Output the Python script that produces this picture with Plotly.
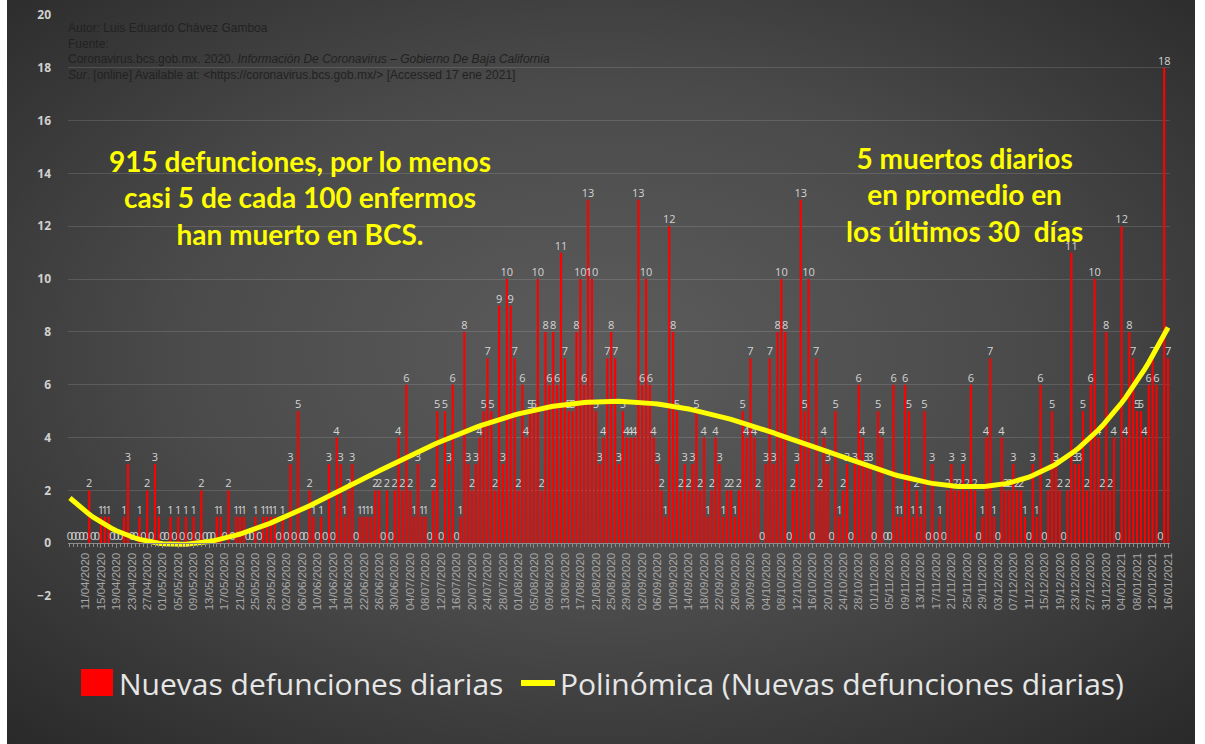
import base64

import numpy as np
import pandas as pd
import plotly.graph_objects as go

# ── Data (daily new deaths, BCS, 07/04/2020 → 16/01/2021) ─────────────────────
START_DATE = "2020-04-07"
DEATHS = [
    0, 0, 0, 0, 0, 2, 0, 0, 1, 1,
    1, 0, 0, 0, 1, 3, 0, 0, 1, 0,
    2, 0, 3, 1, 0, 0, 1, 0, 1, 0,
    1, 0, 1, 0, 2, 0, 0, 0, 1, 1,
    0, 2, 0, 1, 1, 1, 0, 0, 1, 0,
    1, 1, 1, 1, 0, 1, 0, 3, 0, 5,
    0, 0, 2, 1, 0, 1, 0, 3, 0, 4,
    3, 1, 2, 3, 0, 1, 1, 1, 1, 2,
    2, 0, 2, 0, 2, 4, 2, 6, 2, 1,
    3, 1, 1, 0, 2, 5, 0, 5, 3, 6,
    0, 1, 8, 3, 2, 3, 4, 5, 7, 5,
    2, 9, 3, 10, 9, 7, 2, 6, 4, 5,
    5, 10, 2, 8, 6, 8, 6, 11, 7, 5,
    5, 8, 10, 6, 13, 10, 5, 3, 4, 7,
    8, 7, 3, 5, 4, 4, 4, 13, 6, 10,
    6, 4, 3, 2, 1, 12, 8, 5, 2, 3,
    2, 3, 5, 2, 4, 1, 2, 4, 3, 1,
    2, 2, 1, 2, 5, 4, 7, 4, 2, 0,
    3, 7, 3, 8, 10, 8, 0, 2, 3, 13,
    5, 10, 0, 7, 2, 4, 3, 0, 5, 1,
    2, 3, 0, 3, 6, 4, 3, 3, 0, 5,
    4, 0, 0, 6, 1, 1, 6, 5, 1, 2,
    1, 5, 0, 3, 0, 1, 0, 2, 3, 2,
    2, 3, 2, 6, 2, 0, 1, 4, 7, 1,
    0, 4, 2, 2, 3, 2, 2, 1, 0, 3,
    1, 6, 0, 2, 5, 3, 2, 0, 2, 11,
    3, 3, 5, 2, 6, 10, 4, 2, 8, 2,
    4, 0, 12, 4, 8, 7, 5, 5, 4, 6,
    7, 6, 0, 18, 7,
]
TREND_DEGREE = 4
TICK_EVERY = 4  # date label every 4 days, first label on 11/04/2020

AUTHOR_LINES = [
    "Autor: Luis Eduardo Chávez Gamboa",
    "Fuente:",
    "Coronavirus.bcs.gob.mx. 2020. <i>Información De Coronavirus – Gobierno De Baja California</i>",
    "<i>Sur</i>. [online] Available at: &lt;https://coronavirus.bcs.gob.mx/&gt; [Accessed 17 ene 2021]",
]
NOTE_LEFT = ["915 defunciones, por lo menos", "casi 5 de cada 100 enfermos", "han muerto en BCS."]
NOTE_RIGHT = ["5 muertos diarios", "en promedio en", "los últimos 30  días"]
LEGEND_BARS = "Nuevas defunciones diarias"
LEGEND_TREND = "Polinómica (Nuevas defunciones diarias)"

# ── Geometry helpers ──────────────────────────────────────────────────────────
FIG_W, FIG_H = 1205, 744
M_L, M_R, M_T, M_B = 68, 35, 15, 148
PLOT_W = FIG_W - M_L - M_R
PLOT_H = FIG_H - M_T - M_B


def px(x):
    return (x - M_L) / PLOT_W


def py(y):
    return (FIG_H - M_B - y) / PLOT_H


dates = pd.date_range(START_DATE, periods=len(DEATHS), freq="D")
idx = np.arange(len(DEATHS))
tick_idx = idx[TICK_EVERY::TICK_EVERY]
tick_txt = [dates[i].strftime("%d/%m/%Y") for i in tick_idx]

coef = np.polyfit(idx, DEATHS, TREND_DEGREE)
trend = np.polyval(coef, idx)

# vignette background as an inline svg
svg = (
    '<svg xmlns="http://www.w3.org/2000/svg" width="1188" height="744">'
    '<defs><radialGradient id="g" cx="0.5" cy="0.47" r="0.72">'
    '<stop offset="0" stop-color="#5c5c5c"/>'
    '<stop offset="0.5" stop-color="#4a4a4a"/>'
    '<stop offset="1" stop-color="#2a2a2a"/>'
    "</radialGradient></defs>"
    '<rect width="1188" height="744" fill="url(#g)"/></svg>'
)
svg_uri = "data:image/svg+xml;base64," + base64.b64encode(svg.encode()).decode()

fig = go.Figure()

fig.add_trace(
    go.Bar(
        x=idx,
        y=DEATHS,
        name=LEGEND_BARS,
        marker=dict(color="#ff0000", line=dict(width=0)),
        text=[str(v) for v in DEATHS],
        textposition="outside",
        textangle=0,
        constraintext="none",
        cliponaxis=False,
        textfont=dict(family="Open Sans", size=11, color="#d4d4d4"),
        hoverinfo="skip",
    )
)

fig.add_trace(
    go.Scatter(
        x=idx,
        y=trend,
        mode="lines",
        name=LEGEND_TREND,
        line=dict(color="#ffff00", width=5),
        hoverinfo="skip",
    )
)

annotations = [
    dict(
        x=px(66), y=py(19), xref="paper", yref="paper",
        xanchor="left", yanchor="top", align="left",
        text="<br>".join(AUTHOR_LINES), showarrow=False,
        font=dict(family="Liberation Sans", size=12, color="#222222"),
    ),
    dict(
        x=px(300), y=py(197), xref="paper", yref="paper",
        xanchor="center", yanchor="middle", align="center",
        text="<b>" + "<br>".join(NOTE_LEFT) + "</b>", showarrow=False,
        font=dict(family="Lato", size=28, color="#ffff00"),
    ),
    dict(
        x=px(964), y=py(195), xref="paper", yref="paper",
        xanchor="center", yanchor="middle", align="center",
        text="<b>" + "<br>".join(NOTE_RIGHT) + "</b>", showarrow=False,
        font=dict(family="Lato", size=28, color="#ffff00"),
    ),
    dict(
        x=px(117), y=py(683), xref="paper", yref="paper",
        xanchor="left", yanchor="middle",
        text=LEGEND_BARS, showarrow=False,
        font=dict(family="Open Sans", size=30, color="#e6e6e6"),
    ),
    dict(
        x=px(558), y=py(683), xref="paper", yref="paper",
        xanchor="left", yanchor="middle",
        text=LEGEND_TREND, showarrow=False,
        font=dict(family="Open Sans", size=30, color="#e6e6e6"),
    ),
]

shapes = [
    dict(type="rect", xref="paper", yref="paper",
         x0=px(81), x1=px(113), y0=py(696), y1=py(669),
         fillcolor="#ff0000", line=dict(width=0)),
    dict(type="line", xref="paper", yref="paper",
         x0=px(521), x1=px(555), y0=py(683), y1=py(683),
         line=dict(color="#ffff00", width=6)),
]

fig.update_layout(
    width=FIG_W,
    height=FIG_H,
    margin=dict(l=M_L, r=M_R, t=M_T, b=M_B, autoexpand=False),
    paper_bgcolor="#ffffff",
    plot_bgcolor="rgba(0,0,0,0)",
    showlegend=False,
    bargap=0.45,
    annotations=annotations,
    shapes=shapes,
    images=[
        dict(
            source=svg_uri, xref="paper", yref="paper",
            x=px(7), y=py(0), sizex=(1195 - 7) / PLOT_W, sizey=FIG_H / PLOT_H,
            xanchor="left", yanchor="top", sizing="stretch", layer="below",
        )
    ],
)

fig.update_xaxes(
    range=[-0.5, len(DEATHS) - 0.5],
    anchor="free",
    position=2 / 22,
    automargin=False,
    tickmode="array",
    tickvals=tick_idx,
    ticktext=tick_txt,
    tickangle=-90,
    tickfont=dict(family="Liberation Sans", size=11.5, color="#a8a8a8"),
    ticks="outside",
    ticklen=4,
    tickcolor="#8c8c8c",
    minor=dict(tickmode="linear", tick0=0, dtick=1, ticks="outside",
               ticklen=3, tickcolor="#8c8c8c"),
    showline=True,
    linecolor="#8c8c8c",
    linewidth=1,
    showgrid=False,
    zeroline=False,
)

fig.update_yaxes(
    range=[-2, 20],
    dtick=2,
    tick0=0,
    automargin=False,
    showgrid=True,
    gridcolor="rgba(255,255,255,0.13)",
    gridwidth=1,
    zeroline=False,
    ticks="",
    ticklabelstandoff=16,
    tickfont=dict(family="Open Sans", size=12, color="#d0d0d0", weight="bold"),
)

# drop the default 8px page margin so the figure sits at the window's corner
fig.write_html(
    "out.html",
    config={"displayModeBar": False},
    post_script="document.body.style.margin='0';",
)
